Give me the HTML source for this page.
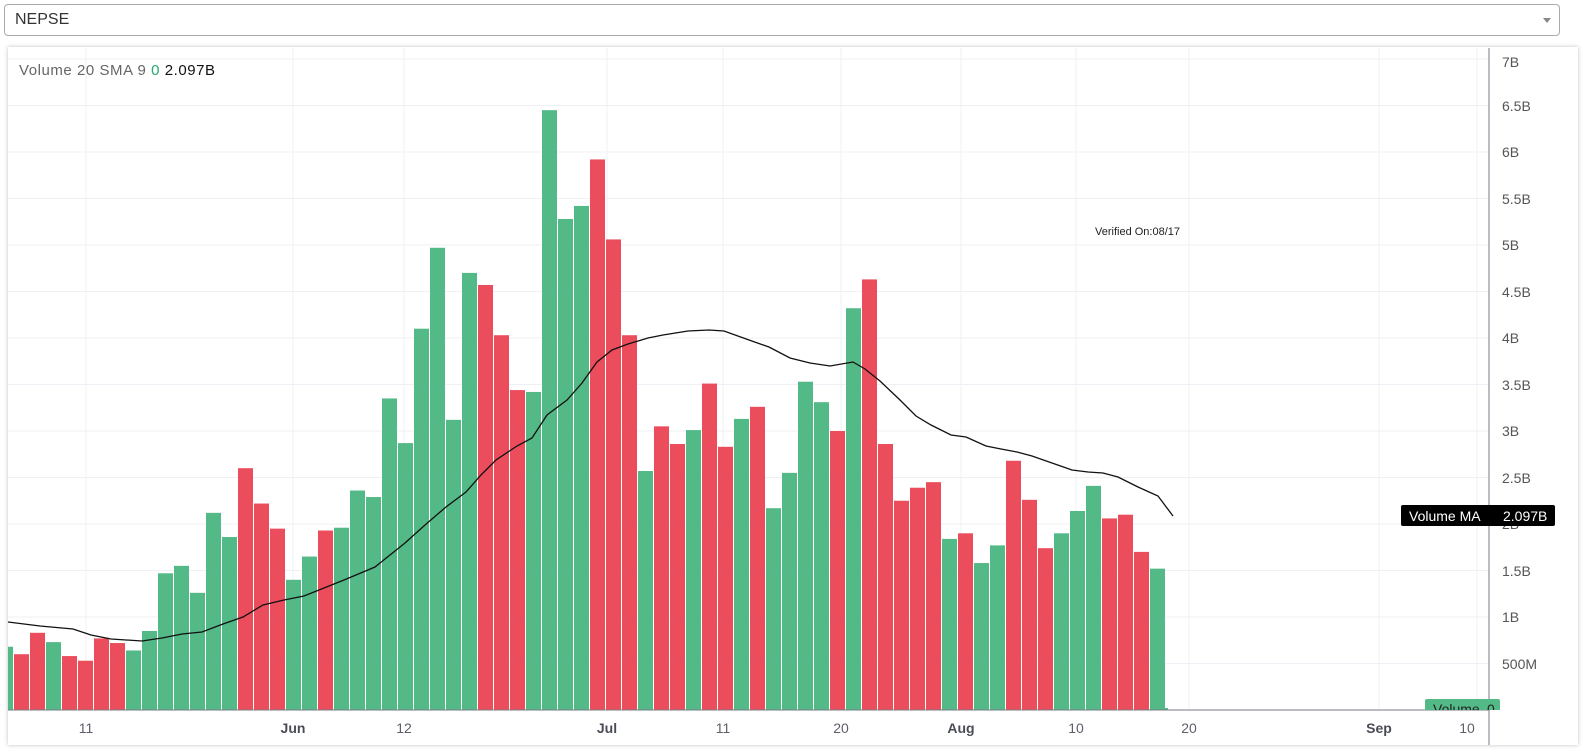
<!DOCTYPE html>
<html><head><meta charset="utf-8"><style>
body{margin:0;background:#fff;width:1586px;height:753px;overflow:hidden;font-family:"Liberation Sans",sans-serif}
.sel{position:absolute;left:4px;top:4px;width:1556px;height:32px;border:1px solid #aaa;border-radius:4px;box-sizing:border-box}
.sel span{position:absolute;left:10px;top:6px;font-size:16px;color:#333}
.sel i{position:absolute;right:8px;top:13px;border-left:4px solid transparent;border-right:4px solid transparent;border-top:5px solid #888}
.panel{position:absolute;left:8px;top:47px;width:1570px;height:698px;box-shadow:0 0 4px rgba(0,0,0,.25);background:#fff}
svg{position:absolute;left:0;top:0}
</style></head><body>
<div class="sel"><span>NEPSE</span><i></i></div>
<div class="panel"></div>
<svg width="1586" height="753" xmlns="http://www.w3.org/2000/svg" font-family="Liberation Sans, sans-serif">
<defs><clipPath id="c"><rect x="8" y="48" width="1481" height="662"/></clipPath></defs>
<g stroke="#eef0f6" stroke-width="1">
<line x1="8" x2="1489" y1="663.5" y2="663.5"/><line x1="8" x2="1489" y1="617" y2="617"/><line x1="8" x2="1489" y1="570.5" y2="570.5"/><line x1="8" x2="1489" y1="524" y2="524"/><line x1="8" x2="1489" y1="477.5" y2="477.5"/><line x1="8" x2="1489" y1="431" y2="431"/><line x1="8" x2="1489" y1="384.5" y2="384.5"/><line x1="8" x2="1489" y1="338" y2="338"/><line x1="8" x2="1489" y1="291.5" y2="291.5"/><line x1="8" x2="1489" y1="245" y2="245"/><line x1="8" x2="1489" y1="198.5" y2="198.5"/><line x1="8" x2="1489" y1="152" y2="152"/><line x1="8" x2="1489" y1="105.5" y2="105.5"/><line x1="8" x2="1489" y1="59" y2="59"/>
<line x1="86" x2="86" y1="48" y2="710"/><line x1="293" x2="293" y1="48" y2="710"/><line x1="404" x2="404" y1="48" y2="710"/><line x1="607" x2="607" y1="48" y2="710"/><line x1="723" x2="723" y1="48" y2="710"/><line x1="841" x2="841" y1="48" y2="710"/><line x1="961" x2="961" y1="48" y2="710"/><line x1="1076" x2="1076" y1="48" y2="710"/><line x1="1189" x2="1189" y1="48" y2="710"/><line x1="1379" x2="1379" y1="48" y2="710"/><line x1="1477" x2="1477" y1="48" y2="710"/>
</g>
<g id="bars" clip-path="url(#c)"></g>
<polyline clip-path="url(#c)" fill="none" stroke="#111" stroke-width="1.3" points="8,622 40,626 73,629 91,635 111,639 142,641 162,638 182,634 202,632 223,624 243,617 263,605 284,600 304,596 324,588 344,580 375,567 405,543 425,525 446,507 466,492 481,475 496,460 517,446 532,438 547,415 567,400 582,383 597,362 612,350 628,344 648,338 663,335 688,331 709,330 724,331 749,340 769,347 790,358 810,363 830,366 853,362 865,369 880,381 900,400 916,416 931,425 951,435 966,437 986,446 1001,449 1017,452 1032,456 1052,463 1072,470 1088,472 1103,473 1118,477 1138,487 1158,496 1173,516"/>
<rect x="1154" y="708" width="14" height="2" fill="#53b987"/>
<line x1="8" x2="1489" y1="710" y2="710" stroke="#787b86"/>
<line x1="1489" x2="1489" y1="48" y2="745" stroke="#787b86"/>
<g font-size="14" fill="#555">
<text x="1502" y="67">7B</text><text x="1502" y="111">6.5B</text><text x="1502" y="157">6B</text><text x="1502" y="204">5.5B</text><text x="1502" y="250">5B</text><text x="1502" y="297">4.5B</text><text x="1502" y="343">4B</text><text x="1502" y="390">3.5B</text><text x="1502" y="436">3B</text><text x="1502" y="483">2.5B</text><text x="1502" y="529">2B</text><text x="1502" y="576">1.5B</text><text x="1502" y="622">1B</text><text x="1502" y="669">500M</text>
</g>
<g font-size="14" fill="#5d606b" text-anchor="middle">
<text x="86" y="733">11</text><text x="293" y="733" font-weight="bold" fill="#4a4d57">Jun</text><text x="404" y="733">12</text><text x="607" y="733" font-weight="bold" fill="#4a4d57">Jul</text><text x="723" y="733">11</text><text x="841" y="733">20</text><text x="961" y="733" font-weight="bold" fill="#4a4d57">Aug</text><text x="1076" y="733">10</text><text x="1189" y="733">20</text><text x="1379" y="733" font-weight="bold" fill="#4a4d57">Sep</text><text x="1467" y="733">10</text>
</g>
<text x="19" y="75" font-size="15" fill="#666" textLength="196">Volume 20 SMA 9 <tspan fill="#26a96c">0</tspan> <tspan fill="#111">2.097B</tspan></text>
<text x="1095" y="235" font-size="11" fill="#222">Verified On:08/17</text>
<rect x="1401" y="505" width="154" height="21" rx="2" fill="#000"/>
<text x="1409" y="521" font-size="14" fill="#fff">Volume MA</text><text x="1503" y="521" font-size="14" fill="#fff">2.097B</text>
<svg x="1425" y="699" width="75" height="11"><rect width="75" height="20" rx="2" fill="#53b987"/><text x="8" y="15" font-size="14" fill="#222">Volume</text><text x="62" y="15" font-size="14" fill="#222">0</text></svg>
</svg>
<script>
var v=[[.68,1],[.6,0],[.83,0],[.73,1],[.58,0],[.53,0],[.77,0],[.72,0],[.64,1],[.85,1],[1.47,1],[1.55,1],[1.26,1],[2.12,1],[1.86,1],[2.6,0],[2.22,0],[1.95,0],[1.4,1],[1.65,1],[1.93,0],[1.96,1],[2.36,1],[2.29,1],[3.35,1],[2.87,1],[4.1,1],[4.97,1],[3.12,1],[4.7,1],[4.57,0],[4.03,0],[3.44,0],[3.42,1],[6.45,1],[5.28,1],[5.42,1],[5.92,0],[5.06,0],[4.03,0],[2.57,1],[3.05,0],[2.86,0],[3.01,1],[3.51,0],[2.83,0],[3.13,1],[3.26,0],[2.17,1],[2.55,1],[3.53,1],[3.31,1],[3.0,0],[4.32,1],[4.63,0],[2.86,0],[2.25,0],[2.39,0],[2.45,0],[1.84,1],[1.9,0],[1.58,1],[1.77,1],[2.68,0],[2.26,0],[1.74,0],[1.9,1],[2.14,1],[2.41,1],[2.06,0],[2.1,0],[1.7,0],[1.52,1]];
var s='';v.forEach(function(b,i){var h=b[0]*93;s+='<rect x="'+(-2+16*i)+'" y="'+(710-h)+'" width="15" height="'+h+'" fill="'+(b[1]?'#53b987':'#eb4d5c')+'"/>';});
document.getElementById('bars').innerHTML=s;
</script>
</body></html>
